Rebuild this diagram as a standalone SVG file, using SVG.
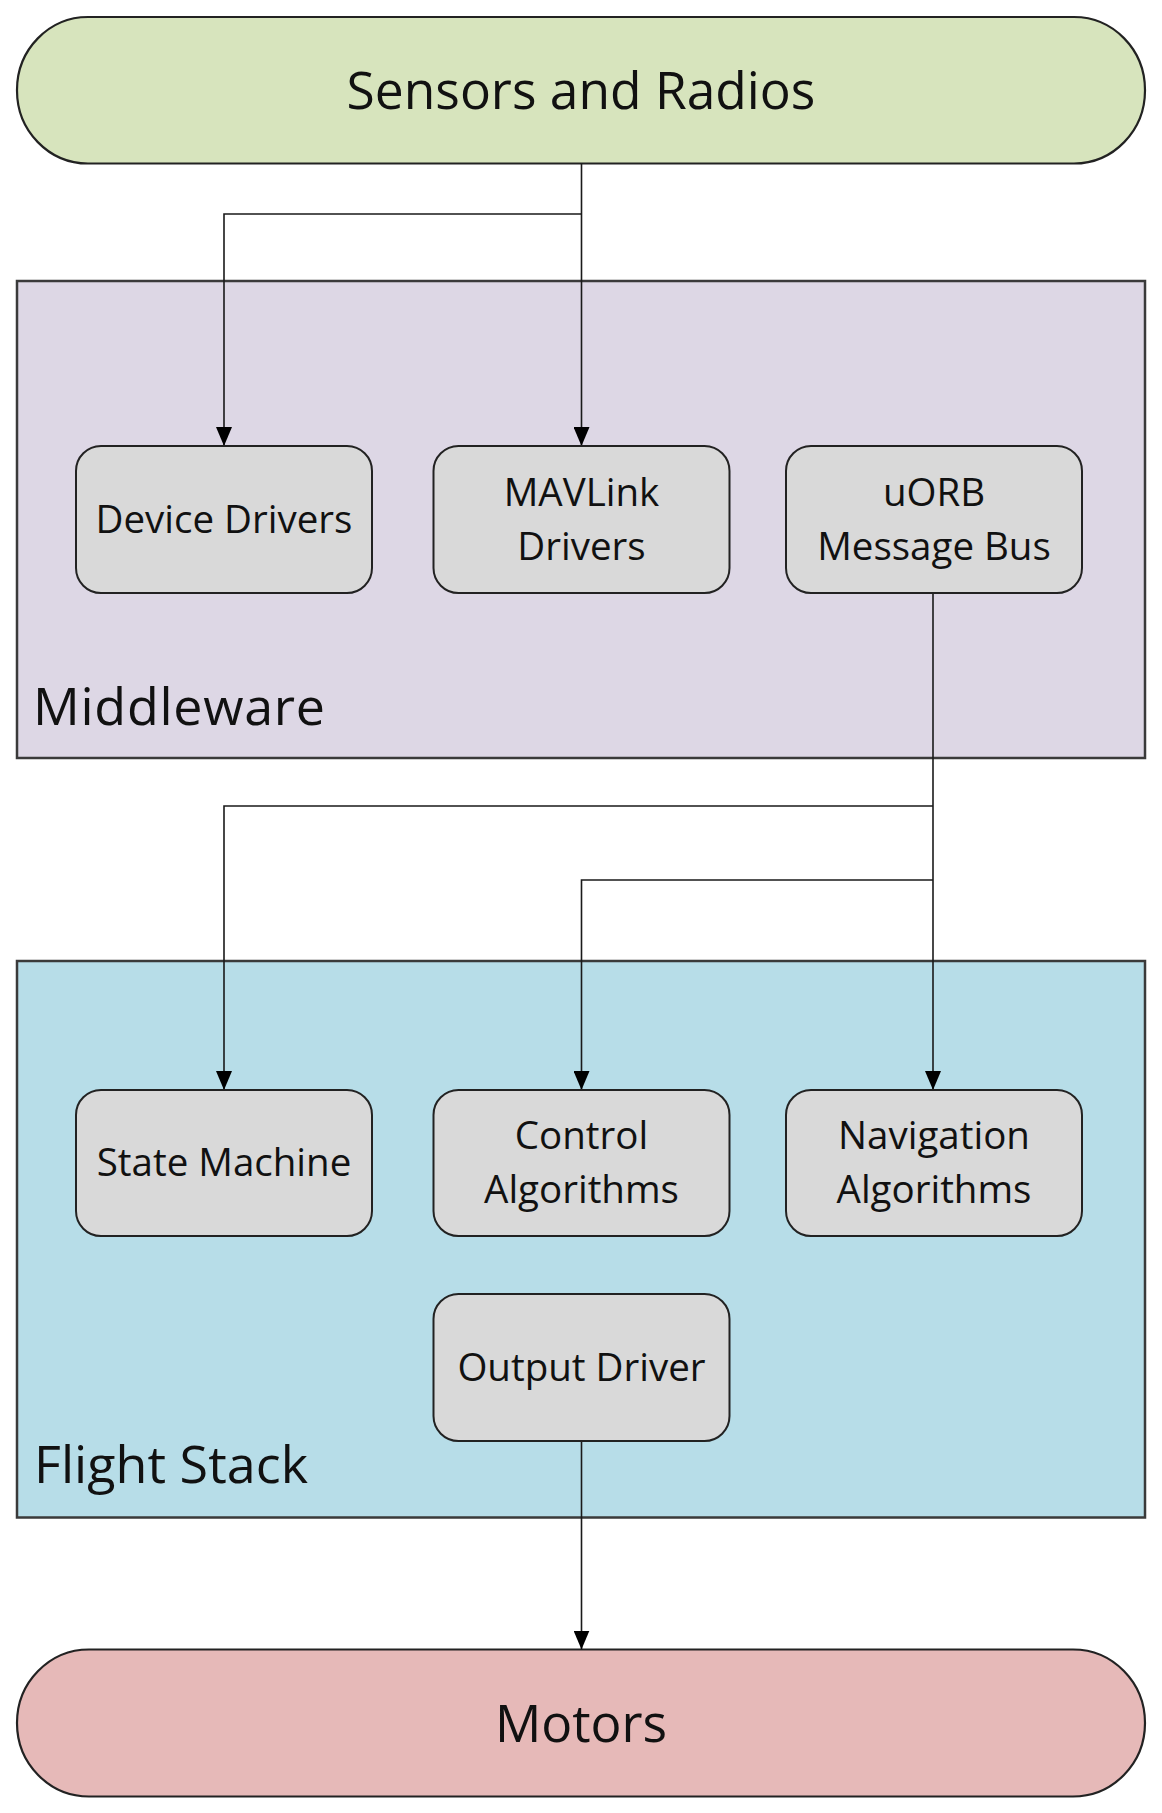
<svg xmlns="http://www.w3.org/2000/svg" width="1162" height="1813" viewBox="0 0 1162 1813">
  <defs>
    <style>
      text { font-family: "Open Sans", "Noto Sans", "Liberation Sans", sans-serif; fill: #111; text-anchor: middle; }
      .pill { stroke: #222; stroke-width: 2.2; }
      .layer { stroke: #3a3a3a; stroke-width: 2.5; }
      .node rect { fill: #D9D9D9; stroke: #222; stroke-width: 2; }
      .node text { font-size: 38.5px; }
      .big { font-size: 51.5px; }
      .layerlabel { font-size: 52px; text-anchor: start; }
      .conn { fill: none; stroke: #1a1a1a; stroke-width: 1.6; }
    </style>
    <marker id="arrow" viewBox="0 0 19 16" refX="19" refY="8" markerWidth="19" markerHeight="16" markerUnits="userSpaceOnUse" orient="auto">
      <path d="M0,0 L19,8 L0,16 Z" fill="#000"/>
    </marker>
  </defs>
  <rect width="1162" height="1813" fill="#ffffff"/>

  <g id="sensors">
    <rect class="pill" x="17" y="17" width="1128" height="146.5" rx="71" ry="73" fill="#D7E4BD"/>
    <text class="big" x="581" y="109">Sensors and Radios</text>
  </g>

  <g id="middleware">
    <rect class="layer" x="17" y="281" width="1128" height="477" fill="#DDD7E5"/>
    <text class="layerlabel" x="33" y="725" textLength="292" lengthAdjust="spacing">Middleware</text>
  </g>

  <g id="flight-stack">
    <rect class="layer" x="17" y="961" width="1128" height="556.5" fill="#B7DDE8"/>
    <text class="layerlabel" x="34" y="1483" textLength="274" lengthAdjust="spacing">Flight Stack</text>
  </g>

  <g id="motors">
    <rect class="pill" x="17" y="1649.5" width="1128" height="147" rx="72" ry="73.5" fill="#E6B9B8"/>
    <text class="big" x="581" y="1742">Motors</text>
  </g>

  <g id="connectors">
    <path class="conn" d="M581.5,163.5 V446" marker-end="url(#arrow)"/>
    <path class="conn" d="M581.5,214 H224 V446" marker-end="url(#arrow)"/>
    <path class="conn" d="M933,593 V1090" marker-end="url(#arrow)"/>
    <path class="conn" d="M933,806 H224 V1090" marker-end="url(#arrow)"/>
    <path class="conn" d="M933,880 H581.5 V1090" marker-end="url(#arrow)"/>
    <path class="conn" d="M581.5,1441 V1649.5" marker-end="url(#arrow)"/>
  </g>

  <g id="device-drivers" class="node">
    <rect x="76" y="446" width="296" height="147" rx="25" ry="25"/>
    <text x="224" y="533">Device Drivers</text>
  </g>
  <g id="mavlink-drivers" class="node">
    <rect x="433.5" y="446" width="296" height="147" rx="25" ry="25"/>
    <text x="581.5" y="506">MAVLink</text>
    <text x="581.5" y="560">Drivers</text>
  </g>
  <g id="uorb-message-bus" class="node">
    <rect x="786" y="446" width="296" height="147" rx="25" ry="25"/>
    <text x="934" y="506">uORB</text>
    <text x="934" y="560">Message Bus</text>
  </g>

  <g id="state-machine" class="node">
    <rect x="76" y="1090" width="296" height="146" rx="25" ry="25"/>
    <text x="224" y="1176">State Machine</text>
  </g>
  <g id="control-algorithms" class="node">
    <rect x="433.5" y="1090" width="296" height="146" rx="25" ry="25"/>
    <text x="581.5" y="1149">Control</text>
    <text x="581.5" y="1203">Algorithms</text>
  </g>
  <g id="navigation-algorithms" class="node">
    <rect x="786" y="1090" width="296" height="146" rx="25" ry="25"/>
    <text x="934" y="1149">Navigation</text>
    <text x="934" y="1203">Algorithms</text>
  </g>

  <g id="output-driver" class="node">
    <rect x="433.5" y="1294" width="296" height="147" rx="25" ry="25"/>
    <text x="581.5" y="1381">Output Driver</text>
  </g>
</svg>
